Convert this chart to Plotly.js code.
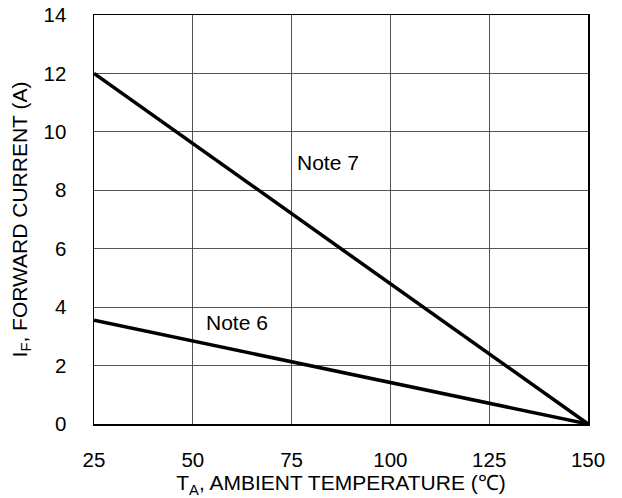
<!DOCTYPE html>
<html><head><meta charset="utf-8">
<script src="https://cdn.plot.ly/plotly-3.0.1.min.js"></script>
<style>body{margin:0}#c{width:622px;height:498px}</style>
</head><body><div id="c"></div>
<script>
const temps = [25, 150];
const note7 = [12, 0];
const note6 = [3.55, 0];
const xTicks = [25, 50, 75, 100, 125, 150];
const yTicks = [0, 2, 4, 6, 8, 10, 12, 14];

const tickFont = {family: 'Liberation Sans, Arial, sans-serif', size: 20.5, color: '#000'};
const font = {family: 'Liberation Sans, Arial, sans-serif', size: 21, color: '#000'};
const traces = [
  {x: temps, y: note7, mode: 'lines', line: {color: '#000', width: 3.5}, hoverinfo: 'none'},
  {x: temps, y: note6, mode: 'lines', line: {color: '#000', width: 3.5}, hoverinfo: 'none'}
];
const layout = {
  width: 622, height: 498,
  margin: {l: 94, r: 34, t: 15, b: 74},
  paper_bgcolor: '#fff', plot_bgcolor: '#fff',
  showlegend: false, font: font,
  xaxis: {range: [25, 150], tickvals: xTicks, ticktext: xTicks.map(String),
    showgrid: true, gridcolor: '#555', gridwidth: 1, zeroline: false,
    showline: true, mirror: true, linecolor: '#000', linewidth: 1.5,
    ticks: '', ticklabelstandoff: 17, tickfont: tickFont,
    title: {text: 'T<sub>A</sub>, AMBIENT TEMPERATURE (℃)', font: font, standoff: 0}},
  yaxis: {range: [0, 14], tickvals: yTicks, ticktext: yTicks.map(String),
    showgrid: true, gridcolor: '#555', gridwidth: 1, zeroline: false,
    showline: true, mirror: true, linecolor: '#000', linewidth: 1.5,
    ticks: '', ticklabelstandoff: 22, tickfont: tickFont,
    title: {text: 'I<sub>F</sub>, FORWARD CURRENT (A)', font: font, standoff: 10}},
  annotations: [
    {x: 75.9, y: 8.94, xref: 'x', yref: 'y', text: 'Note 7', showarrow: false, xanchor: 'left', yanchor: 'middle', font: font},
    {x: 52.8, y: 3.46, xref: 'x', yref: 'y', text: 'Note 6', showarrow: false, xanchor: 'left', yanchor: 'middle', font: font}
  ]
};
Plotly.newPlot('c', traces, layout, {staticPlot: true});
</script></body></html>
